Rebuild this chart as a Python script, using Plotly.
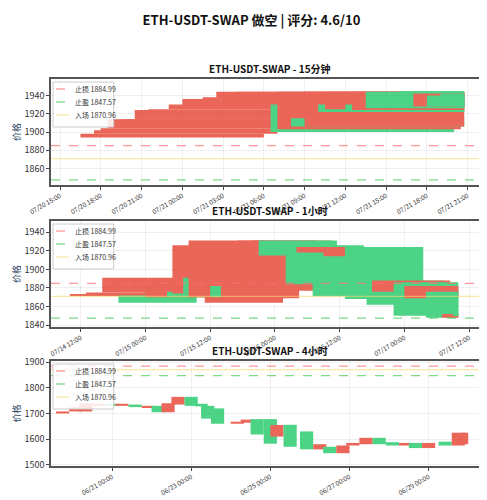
import plotly.graph_objects as go
import pandas as pd

title = "ETH-USDT-SWAP 做空 | 评分: 4.6/10"
stop_loss, take_profit, entry = 1884.99, 1847.57, 1870.96

# 15m
t15 = ["07-20 16:30","07-20 17:30","07-20 18:00","07-20 18:30","07-20 19:30","07-20 20:30","07-20 21:30",
       "07-20 23:00","07-21 00:00","07-21 01:30","07-21 02:30","07-21 04:00","07-21 06:30","07-21 07:00",
       "07-21 08:00","07-21 09:00","07-21 10:00","07-21 10:30","07-21 12:00","07-21 12:30","07-21 13:30",
       "07-21 14:00","07-21 15:00","07-21 16:00","07-21 17:00","07-21 18:00","07-21 19:00","07-21 20:00","07-21 20:30"]
o15 = [1894,1898,1902,1904,1910,1914,1920,1925,1928,1934,1936,1940,1930,1903,1915,1906,1930,1925,1930,1924,1944,1940,1942,1945,1928,1940,1942,1940,1936]
c15 = [1898,1902,1904,1914,1914,1924,1925,1930,1936,1938,1944,1944,1900,1944,1906,1944,1922,1944,1922,1944,1926,1930,1932,1928,1942,1928,1930,1928,1928]
end15 = "07-21 20:45"

# 1h
t1h = ["07-14 10:00","07-14 13:00","07-14 16:00","07-14 19:00","07-15 00:00","07-15 04:00","07-15 05:00","07-15 07:00",
       "07-15 08:00","07-15 11:00","07-15 12:00","07-15 14:00","07-15 17:00","07-15 20:00","07-15 21:00","07-16 02:00",
       "07-16 04:00","07-16 07:00","07-16 09:00","07-16 11:00","07-16 13:00","07-16 17:00","07-16 18:00","07-16 22:00",
       "07-17 00:00","07-17 02:00","07-17 04:00","07-17 07:00","07-17 09:00"]
o1h = [1872,1873,1875,1872,1870,1876,1874,1891,1870,1864,1882,1869,1877,1885,1931,1926,1918,1888,1914,1918,1924,1888,1876,1886,1869,1871,1876,1848,1852]
c1h = [1873,1875,1891,1864,1890,1870,1926,1874,1931,1880,1870,1920,1931,1931,1915,1884,1924,1871,1924,1924,1868,1862,1888,1850,1882,1877,1848,1852,1850]
end1h = "07-17 10:00"

# 4h
t4h = ["06-19 14:00","06-19 22:00","06-20 04:00","06-20 12:00","06-20 20:00","06-21 02:00","06-21 10:00","06-21 18:00",
       "06-22 00:00","06-22 06:00","06-22 12:00","06-22 20:00","06-23 02:00","06-23 06:00","06-23 12:00","06-24 00:00",
       "06-24 06:00","06-24 12:00","06-24 20:00","06-25 00:00","06-25 08:00","06-25 18:00","06-26 02:00","06-26 08:00",
       "06-26 16:00","06-26 22:00","06-27 06:00","06-27 14:00","06-27 22:00","06-28 06:00","06-28 12:00","06-28 20:00",
       "06-29 06:00","06-29 14:00","06-29 20:00"]
o4h = [1700,1708,1708,1730,1738,1730,1735,1725,1730,1705,1735,1765,1738,1730,1720,1660,1664,1678,1678,1610,1656,1630,1560,1570,1545,1575,1580,1605,1588,1575,1585,1565,1590,1575,1580]
c4h = [1708,1724,1740,1738,1730,1738,1725,1730,1705,1740,1765,1730,1728,1680,1660,1668,1676,1618,1582,1655,1570,1560,1580,1545,1575,1585,1605,1580,1575,1585,1565,1585,1575,1625,1625]
end4h = "06-30 00:00"

panels = [
    ("ETH-USDT-SWAP - 15分钟", t15, o15, c15, end15, 13.5, [1842, 1958], ["07-20 14:20", "07-21 22:30"], 3, "07-20 15:00", [1860,1880,1900,1920,1940]),
    ("ETH-USDT-SWAP - 1小时", t1h, o1h, c1h, end1h, 14.5, [1838, 1952], ["07-14 06:30", "07-17 15:30"], 12, "07-14 12:00", [1840,1860,1880,1900,1920,1940]),
    ("ETH-USDT-SWAP - 4小时", t4h, o4h, c4h, end4h, 8, [1495, 1905], ["06-19 11:00", "06-30 12:00"], 48, "06-21 00:00", [1500,1600,1700,1800,1900]),
]
W_, H_ = 487, 500
ML, MR, MT, MB = 43, 5, 71, 42
PW, PH = W_ - ML - MR, H_ - MT - MB
pix = [(71, 177), (213, 319), (353, 458)]
def py(p):
    return min(1.0, max(0.0, (H_ - MB - p) / PH))
def px(p):
    return (p - ML) / PW
domains = [[py(b), py(t)] for t, b in pix]
RED, GREEN = "#e74c3c", "#2ecc71"

fig = go.Figure()
H = 3600 * 1000
shapes, annos = [], []
for i, (name, t, o, c, end, W, yr, xr, dt, t0, yt) in enumerate(panels):
    k = "" if i == 0 else str(i + 1)
    xa, ya = "x" + k, "y" + k
    ts = pd.to_datetime(["2023-" + s for s in t])
    te = pd.Timestamp("2023-" + end)
    widths = [min(W * H, (te - x).total_seconds() * 1000) for x in ts]
    base = [min(a, b) for a, b in zip(o, c)]
    hgt = [max(abs(b - a), 0.6) for a, b in zip(o, c)]
    cols = [RED if b >= a else GREEN for a, b in zip(o, c)]
    fig.add_trace(go.Bar(x=ts, y=hgt, base=base, width=widths, offset=0, marker=dict(color=cols, line_width=0),
                         opacity=0.85, showlegend=False, xaxis=xa, yaxis=ya))
    items = [(stop_loss, "rgba(255,110,110,0.7)", "dash", f"止损 {stop_loss}"),
             (take_profit, "rgba(70,200,90,0.7)", "dash", f"止盈 {take_profit}"),
             (entry, "rgba(245,215,110,0.6)", "solid", f"入场 {entry}")]
    for val, col, dash, lab in items:
        shapes.append(dict(type="line", xref=xa + " domain", yref=ya, x0=0, x1=1, y0=val, y1=val,
                           line=dict(color=col, dash=dash, width=1.3), layer="above"))
    top = pix[i][0]
    shapes.append(dict(type="rect", xref="paper", yref="paper", x0=px(45), x1=px(106), y0=py(top + 48), y1=py(top + 3),
                       fillcolor="rgba(255,255,255,0.85)", line=dict(color="#ccc", width=1), layer="above"))
    for j, (val, col, dash, lab) in enumerate(items):
        yy = top + 10 + j * 13
        shapes.append(dict(type="line", xref="paper", yref="paper", x0=px(48), x1=px(61), y0=py(yy), y1=py(yy),
                           line=dict(color=col, dash=dash, width=1.3), layer="above"))
        annos.append(dict(text=lab, x=px(65), y=py(yy), xref="paper", yref="paper", xanchor="left", yanchor="middle",
                          showarrow=False, font=dict(size=7, color="#333")))
    fig.update_layout(**{
        "xaxis" + k: dict(domain=[0, 1], anchor=ya, type="date",
                          range=[pd.Timestamp("2023-" + xr[0]), pd.Timestamp("2023-" + xr[1])],
                          tick0=pd.Timestamp("2023-" + t0), dtick=dt * H, tickformat="%m/%d %H:%M",
                          tickangle=-30, tickfont=dict(size=6.5, color="#333"),
                          showgrid=True, gridcolor="rgba(0,0,0,0.06)", showline=True, linecolor="#555", linewidth=1.5,
                          mirror=True, ticks="outside", ticklen=3, zeroline=False),
        "yaxis" + k: dict(domain=domains[i], anchor=xa, range=yr, tickvals=yt, tickfont=dict(size=9, color="#333"),
                          title=dict(text="价格", font=dict(size=9), standoff=2),
                          showgrid=True, gridcolor="rgba(0,0,0,0.06)", showline=True, linecolor="#555", linewidth=1.5,
                          mirror=True, ticks="outside", ticklen=3, zeroline=False),
    })
    annos.append(dict(text="<b>" + name + "</b>", x=0.5, y=domains[i][1], xref="paper", yref="paper",
                      yanchor="bottom", showarrow=False, font=dict(size=10, color="#111"), yshift=1))

fig.update_layout(width=W_, height=H_, margin=dict(l=ML, r=MR, t=MT, b=MB),
                  paper_bgcolor="white", plot_bgcolor="white", barmode="overlay", showlegend=False,
                  shapes=shapes, annotations=annos,
                  font=dict(family="Noto Sans CJK SC, DejaVu Sans"),
                  title=dict(text="<b>" + title + "</b>", x=0.5, y=0.985, yanchor="top", font=dict(size=13, color="#111")))
fig.write_html("out.html")
